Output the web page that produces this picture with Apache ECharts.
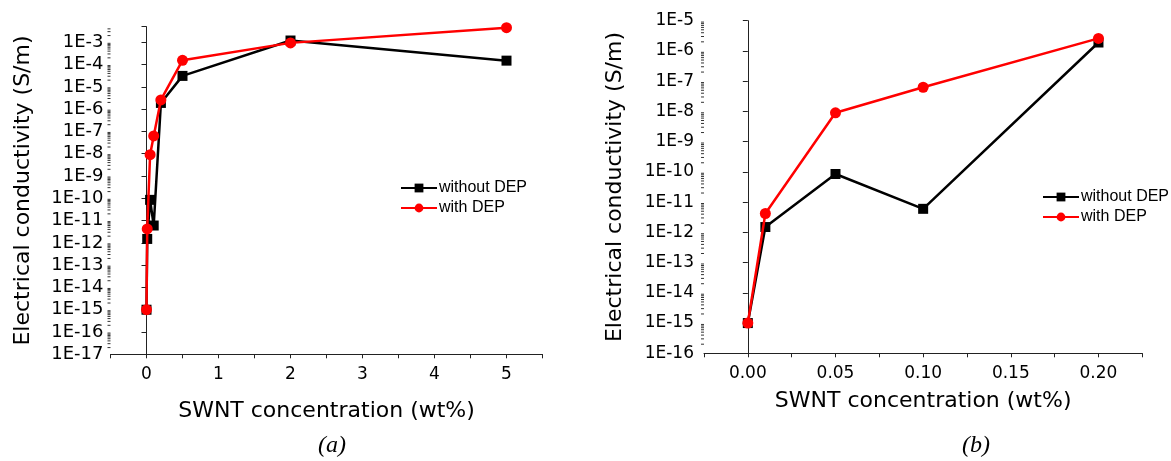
<!DOCTYPE html>
<html>
<head>
<meta charset="utf-8">
<script src="https://cdn.jsdelivr.net/npm/echarts@6/dist/echarts.min.js"></script>
<style>
  html, body { margin: 0; padding: 0; background: #fff; }
  #chart { width: 1171px; height: 461px; }
</style>
</head>
<body>
<div id="chart"></div>
<script>
// SWNT concentration (wt%)
const conc = [0, 0.01, 0.05, 0.1, 0.2, 0.5, 2, 5];
// conductivity (S/m)
const withoutDep = [1e-15, 1.5e-12, 8.5e-11, 6e-12, 1.9e-6, 3.1e-5, 1.2e-3, 1.5e-4];
const withDep = [1e-15, 4.2e-12, 9e-9, 6.3e-8, 2.6e-6, 1.55e-4, 9.4e-4, 4.5e-3];
const zoomMax = 0.2; // panel (b) only shows the low concentrations

const pairs = (ys, limit) => conc.map((x, i) => [x, ys[i]]).filter(p => p[0] <= limit);

const font = 'DejaVu Sans';
const expLabel = (v) => {
    const e = Math.log10(v);
    if (Math.abs(e - Math.round(e)) > 1e-6) return '';
    return '1E' + Math.round(e);
};

// log minor ticks (2..9 x 10^n) drawn against the y scale
function minorValues(min, max) {
    const out = [];
    for (let n = Math.floor(Math.log10(min)); n <= Math.ceil(Math.log10(max)); n++) {
        for (let k = 2; k <= 9; k++) {
            const v = k * Math.pow(10, n);
            if (v > min && v < max) out.push(v);
        }
    }
    return out;
}

function minorTicks(grid, xmin, ymin, ymax) {
    return {
        type: 'custom', xAxisIndex: grid, yAxisIndex: grid, silent: true, clip: false, z: 1,
        data: minorValues(ymin, ymax).map(v => [xmin, v]),
        renderItem: (params, api) => {
            const p = api.coord([api.value(0), api.value(1)]);
            return {
                type: 'line',
                shape: { x1: p[0] - 3, y1: p[1], x2: p[0], y2: p[1] },
                style: { stroke: '#333', lineWidth: 1 }
            };
        }
    };
}

function yAxis(grid, min, max, size, margin) {
    return {
        type: 'log', logBase: 10, gridIndex: grid, min: min, max: max, interval: 1,
        name: 'Electrical conductivity (S/m)', nameLocation: 'middle', nameRotate: 90,
        nameGap: grid === 0 ? 76 : 78,
        nameTextStyle: { fontFamily: font, fontSize: 22, color: '#000' },
        axisLine: { show: true, lineStyle: { color: '#222', width: 1 } },
        axisTick: { show: true, length: 5, lineStyle: { color: '#222' } },
        splitLine: { show: false },
        axisLabel: { fontFamily: font, fontSize: size, color: '#000', margin: margin, formatter: expLabel, showMaxLabel: true }
    };
}

function xAxis(grid, min, max, step, labelStep, digits, gap) {
    return {
        type: 'value', gridIndex: grid, min: min, max: max, interval: step,
        name: 'SWNT concentration (wt%)', nameLocation: 'middle', nameGap: gap,
        nameTextStyle: { fontFamily: font, fontSize: 22, color: '#000' },
        axisLine: { show: true, onZero: false, lineStyle: { color: '#222', width: 1 } },
        axisTick: { show: true, length: 4, lineStyle: { color: '#222' } },
        splitLine: { show: false },
        axisLabel: {
            fontFamily: font, fontSize: 17, color: '#000', margin: 12,
            formatter: (v) => {
                const k = v / labelStep;
                if (Math.abs(k - Math.round(k)) > 1e-6 || v < -1e-9 || v > max - step / 2) return '';
                return v.toFixed(digits);
            }
        }
    };
}

function series(name, data, xi, color, symbol, size) {
    return {
        name: name, type: 'line', xAxisIndex: xi, yAxisIndex: xi, data: data,
        symbol: symbol, symbolSize: size, showSymbol: true,
        lineStyle: { color: color, width: 2.5 },
        itemStyle: { color: color },
        z: color === '#ff0000' ? 3 : 2
    };
}

function legend(left, top) {
    return {
        left: left, top: top, orient: 'vertical', itemWidth: 36, itemHeight: 11, itemGap: 4,
        data: ['without DEP', 'with DEP'],
        textStyle: { fontFamily: 'Liberation Sans', fontSize: 16, color: '#000', padding: [0, 0, 0, -3] }
    };
}

const chart = echarts.init(document.getElementById('chart'), null, { renderer: 'canvas' });
chart.setOption({
    animation: false,
    grid: [
        { left: 110.5, right: 628.5, top: 26.7, bottom: 106.7 },
        { left: 704, right: 28.7, top: 20.7, bottom: 107.7 }
    ],
    xAxis: [
        xAxis(0, -0.5, 5.5, 0.5, 1, 0, 46),
        xAxis(1, -0.025, 0.225, 0.025, 0.05, 2, 37)
    ],
    yAxis: [
        yAxis(0, 1e-17, 5e-3, 18, 7),
        yAxis(1, 1e-16, 1e-5, 17, 10)
    ],
    legend: [legend(395, 175), legend(1037, 184)],
    series: [
        minorTicks(0, -0.5, 1e-17, 5e-3),
        minorTicks(1, -0.025, 1e-16, 1e-5),
        series('without DEP', pairs(withoutDep, Infinity), 0, '#000000', 'rect', 10),
        series('with DEP', pairs(withDep, Infinity), 0, '#ff0000', 'circle', 11),
        series('without DEP', pairs(withoutDep, zoomMax), 1, '#000000', 'rect', 10),
        series('with DEP', pairs(withDep, zoomMax), 1, '#ff0000', 'circle', 11)
    ],
    graphic: [
        { type: 'text', left: 318, top: 434, style: { text: '(a)', font: 'italic 24px "Liberation Serif"', fill: '#000' } },
        { type: 'text', left: 962, top: 434, style: { text: '(b)', font: 'italic 24px "Liberation Serif"', fill: '#000' } }
    ]
});
</script>
</body>
</html>
